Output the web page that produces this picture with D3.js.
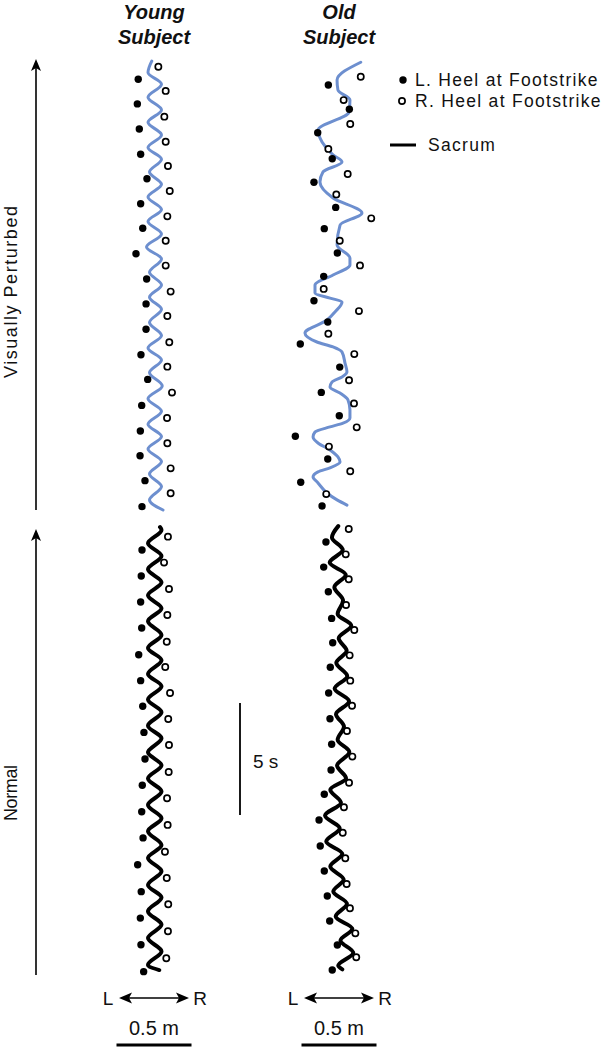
<!DOCTYPE html>
<html>
<head>
<meta charset="utf-8">
<script src="https://cdn.jsdelivr.net/npm/d3@7"></script>
<style>
body { margin: 0; background: #fff; }
svg text { font-family: "Liberation Sans", Arial, sans-serif; fill: #111; }
</style>
</head>
<body>
<svg width="602" height="1047"></svg>
<script>
// each point is [lateral position (m), time (s)]; time runs upward
var youngPertLeft = [[-0.105,19.23],[-0.111,18.13],[-0.098,17.01],[-0.089,15.88],[-0.047,14.79],[-0.089,13.67],[-0.075,12.58],[-0.12,11.44],[-0.049,10.31],[-0.053,9.20],[-0.053,8.07],[-0.087,6.93],[-0.042,5.83],[-0.082,4.67],[-0.091,3.53],[-0.093,2.42],[-0.06,1.31],[-0.08,0.15]];
var youngPertRight = [[0.029,19.79],[0.078,18.71],[0.069,17.56],[0.078,16.44],[0.093,15.36],[0.105,14.24],[0.089,13.11],[0.078,12.02],[0.078,10.91],[0.111,9.75],[0.089,8.66],[0.102,7.49],[0.089,6.40],[0.12,5.24],[0.087,4.11],[0.089,2.98],[0.111,1.86],[0.111,0.75]];
var youngPertSacrum = [[-0.015,20.04],[-0.04,19.53],[0.05,19.01],[-0.04,18.43],[0.05,17.86],[-0.04,17.31],[0.05,16.74],[-0.04,16.18],[0.05,15.66],[-0.03,15.09],[0.05,14.54],[-0.04,13.97],[0.05,13.41],[-0.04,12.88],[0.05,12.32],[-0.05,11.74],[0.05,11.21],[-0.03,10.61],[0.05,10.05],[-0.03,9.5],[0.05,8.96],[-0.03,8.37],[0.05,7.79],[-0.04,7.23],[0.05,6.7],[-0.03,6.13],[0.055,5.54],[-0.04,4.97],[0.05,4.41],[-0.04,3.83],[0.05,3.28],[-0.04,2.72],[0.05,2.16],[-0.03,1.61],[0.05,1.05],[-0.03,0.45],[0.06,0.0]];

var oldPertLeft = [[-0.071,18.97],[0.069,17.89],[-0.142,16.84],[-0.045,15.68],[-0.167,14.63],[-0.022,13.51],[-0.098,12.56],[-0.011,11.47],[-0.102,10.43],[-0.167,9.34],[-0.075,8.39],[-0.258,7.41],[0.005,6.38],[-0.118,5.25],[0.002,4.21],[-0.291,3.29],[-0.075,2.28],[-0.255,1.24],[-0.113,0.18]];
var oldPertRight = [[0.145,19.34],[0.031,18.30],[0.075,17.23],[-0.071,16.12],[0.058,15.0],[-0.018,14.09],[0.215,13.02],[0.005,12.02],[0.14,10.92],[-0.102,9.87],[0.133,8.88],[-0.071,7.87],[0.102,6.96],[0.067,5.79],[0.1,4.76],[0.118,3.69],[-0.067,2.83],[0.075,1.73],[-0.085,0.71]];
var oldPertSacrum = [[0.145,19.99],[-0.013,19.20],[-0.007,18.75],[0.073,18.30],[0.067,17.77],[-0.14,16.96],[-0.113,16.43],[-0.04,15.85],[0.02,15.54],[-0.107,15.09],[-0.127,14.64],[-0.04,13.93],[0.153,13.26],[0.007,12.72],[-0.013,11.83],[0.073,11.25],[0.073,10.94],[-0.04,10.49],[-0.16,10.04],[-0.16,9.69],[-0.06,9.46],[0.02,9.29],[-0.027,8.84],[-0.08,8.48],[-0.227,7.90],[-0.147,7.50],[-0.04,7.28],[0.02,7.05],[0.04,6.56],[0.053,6.16],[0.02,5.94],[-0.047,5.71],[-0.06,5.49],[0.007,5.22],[0.06,4.91],[0.073,4.46],[0.073,4.11],[0.027,3.88],[-0.06,3.71],[-0.16,3.48],[-0.173,3.26],[-0.14,2.99],[-0.06,2.68],[-0.007,2.37],[0.007,2.14],[-0.06,1.88],[-0.14,1.70],[-0.173,1.47],[-0.14,1.21],[-0.08,0.76],[-0.013,0.45],[0.053,0.22]];

var youngNormLeft = [[-0.08,18.97],[-0.085,17.81],[-0.089,16.65],[-0.082,15.49],[-0.102,14.30],[-0.089,13.14],[-0.075,12.0],[-0.067,10.83],[-0.06,9.64],[-0.078,8.47],[-0.082,7.29],[-0.073,6.12],[-0.109,4.92],[-0.085,3.72],[-0.091,2.54],[-0.087,1.35],[-0.069,0.15]];
var youngNormRight = [[0.093,19.57],[0.067,18.41],[0.1,17.23],[0.089,16.07],[0.085,14.88],[0.075,13.75],[0.107,12.59],[0.095,11.43],[0.1,10.27],[0.098,9.06],[0.087,7.89],[0.091,6.70],[0.073,5.50],[0.085,4.33],[0.095,3.16],[0.093,1.95],[0.082,0.75]];
var youngNormSacrum = [[0.04,20.0],[0.05,19.87],[-0.04,19.27],[0.05,18.71],[-0.04,18.11],[0.05,17.53],[-0.04,16.95],[0.05,16.37],[-0.04,15.79],[0.05,15.18],[-0.04,14.60],[0.05,14.05],[-0.04,13.44],[0.05,12.89],[-0.04,12.30],[0.05,11.73],[-0.04,11.13],[0.05,10.57],[-0.04,9.94],[0.05,9.36],[-0.04,8.77],[0.05,8.19],[-0.04,7.59],[0.05,7.00],[-0.04,6.42],[0.05,5.80],[-0.04,5.22],[0.05,4.63],[-0.04,4.02],[0.05,3.46],[-0.04,2.84],[0.05,2.25],[-0.04,1.65],[0.05,1.05],[-0.04,0.45],[0.035,0.22]];

var oldNormLeft = [[-0.087,19.33],[-0.102,18.21],[-0.071,17.11],[-0.049,15.92],[-0.042,14.83],[-0.058,13.74],[-0.069,12.59],[-0.06,11.44],[-0.049,10.30],[-0.053,9.15],[-0.098,8.07],[-0.133,6.92],[-0.125,5.76],[-0.098,4.64],[-0.078,3.53],[-0.062,2.41],[-0.011,1.34],[-0.045,0.22]];
var oldNormRight = [[0.065,19.91],[0.045,18.78],[0.065,17.67],[0.047,16.52],[0.102,15.40],[0.071,14.27],[0.075,13.14],[0.087,12.02],[0.053,10.89],[0.089,9.75],[0.067,8.58],[0.033,7.49],[0.025,6.35],[0.042,5.21],[0.051,4.06],[0.073,2.98],[0.109,1.86],[0.115,0.79]];
var oldNormSacrum = [[-0.005,20.04],[-0.047,19.53],[0.025,18.98],[-0.062,18.41],[0.045,17.87],[-0.031,17.31],[0.027,16.72],[-0.009,16.12],[0.082,15.60],[-0.002,15.03],[0.051,14.47],[-0.018,13.94],[0.055,13.34],[-0.029,12.79],[0.067,12.22],[-0.02,11.64],[0.033,11.09],[-0.009,10.50],[0.069,9.95],[-0.013,9.35],[0.047,8.78],[-0.058,8.27],[0.013,7.69],[-0.093,7.12],[0.005,6.55],[-0.085,5.96],[0.022,5.41],[-0.058,4.84],[0.031,4.26],[-0.038,3.73],[0.053,3.18],[-0.022,2.61],[0.089,2.06],[0.01,1.54],[0.095,0.99],[-0.005,0.42],[0.022,0.25]];

var subjects = ["Young", "Old"];
var conditions = ["Visually Perturbed", "Normal"];
var legendLabels = ["L. Heel at Footstrike", "R. Heel at Footstrike", "Sacrum"];

var svg = d3.select("svg");
var blue = "#6d8fcf";

var colX = { Young: 154, Old: 339 };
var rowBottom = { "Visually Perturbed": 510, "Normal": 975 };
var pxPerM = 150, pxPerS = 22.4;

var panels = [
  { subj: "Young", cond: "Visually Perturbed", left: youngPertLeft, right: youngPertRight, sacrum: youngPertSacrum, color: blue, w: 3 },
  { subj: "Old", cond: "Visually Perturbed", left: oldPertLeft, right: oldPertRight, sacrum: oldPertSacrum, color: blue, w: 3 },
  { subj: "Young", cond: "Normal", left: youngNormLeft, right: youngNormRight, sacrum: youngNormSacrum, color: "#000", w: 4 },
  { subj: "Old", cond: "Normal", left: oldNormLeft, right: oldNormRight, sacrum: oldNormSacrum, color: "#000", w: 4 }
];

panels.forEach(function(p) {
  var cx = colX[p.subj], bot = rowBottom[p.cond];
  var x = d3.scaleLinear().domain([-0.5, 0.5]).range([cx - pxPerM / 2, cx + pxPerM / 2]);
  var y = d3.scaleLinear().domain([0, 20]).range([bot, bot - 20 * pxPerS]);
  var g = svg.append("g");

  var line = d3.line()
    .x(function(d) { return x(d[0]); })
    .y(function(d) { return y(d[1]); })
    .curve(d3.curveMonotoneY);
  var pts = p.sacrum.slice().sort(function(a, b) { return a[1] - b[1]; });
  g.append("path")
    .attr("d", line(pts))
    .attr("fill", "none")
    .attr("stroke", p.color)
    .attr("stroke-width", p.w)
    .attr("stroke-linecap", "round");

  g.selectAll(".lh").data(p.left).enter().append("circle")
    .attr("cx", function(d) { return x(d[0]); })
    .attr("cy", function(d) { return y(d[1]); })
    .attr("r", 3.7)
    .attr("fill", "#000");

  g.selectAll(".rh").data(p.right).enter().append("circle")
    .attr("cx", function(d) { return x(d[0]); })
    .attr("cy", function(d) { return y(d[1]); })
    .attr("r", 3.1)
    .attr("fill", "#fff")
    .attr("stroke", "#000")
    .attr("stroke-width", 1.7);
});

// column titles
subjects.forEach(function(s) {
  var t = svg.append("text")
    .attr("text-anchor", "middle")
    .attr("font-weight", "bold")
    .attr("font-style", "italic")
    .attr("font-size", 20);
  t.append("tspan").attr("x", colX[s]).attr("y", 19).text(s);
  t.append("tspan").attr("x", colX[s]).attr("y", 44).text("Subject");
});

// row arrows on the left
function arrowHead(x0, y0, dir) {
  // dir: "up", "left", "right"
  var p;
  if (dir === "up") p = [[x0, y0], [x0 - 5, y0 + 12], [x0, y0 + 9], [x0 + 5, y0 + 12]];
  if (dir === "left") p = [[x0, y0], [x0 + 13, y0 - 5.5], [x0 + 10, y0], [x0 + 13, y0 + 5.5]];
  if (dir === "right") p = [[x0, y0], [x0 - 13, y0 - 5.5], [x0 - 10, y0], [x0 - 13, y0 + 5.5]];
  svg.append("path").attr("d", "M" + p.join("L") + "Z").attr("fill", "#000");
}

var rowTop = { "Visually Perturbed": 59, "Normal": 529 };
var rowLabelY = { "Visually Perturbed": 292, "Normal": 793 };
var rowLabelLen = { "Visually Perturbed": 172, "Normal": 56 };
conditions.forEach(function(c) {
  svg.append("line")
    .attr("x1", 36).attr("x2", 36)
    .attr("y1", rowBottom[c]).attr("y2", rowTop[c] + 6)
    .attr("stroke", "#000").attr("stroke-width", 1.6);
  arrowHead(36, rowTop[c], "up");
  svg.append("text")
    .attr("transform", "translate(17," + rowLabelY[c] + ") rotate(-90)")
    .attr("text-anchor", "middle")
    .attr("font-size", 18)
    .attr("textLength", rowLabelLen[c])
    .attr("lengthAdjust", "spacing")
    .text(c);
});

// legend
var lg = svg.append("g");
lg.append("circle").attr("cx", 403).attr("cy", 80).attr("r", 3.7).attr("fill", "#000");
lg.append("circle").attr("cx", 402).attr("cy", 101).attr("r", 3.1).attr("fill", "#fff").attr("stroke", "#000").attr("stroke-width", 1.7);
lg.append("line").attr("x1", 390).attr("x2", 416).attr("y1", 145).attr("y2", 145).attr("stroke", "#000").attr("stroke-width", 3);
lg.selectAll(".lt").data(legendLabels).enter().append("text")
  .attr("x", function(d, i) { return i < 2 ? 415 : 428; })
  .attr("y", function(d, i) { return [86, 107, 151][i]; })
  .attr("font-size", 17.5)
  .attr("letter-spacing", 1.3)
  .text(function(d) { return d; });

// 5 s time scale bar
svg.append("line").attr("x1", 240).attr("x2", 240).attr("y1", 703).attr("y2", 703 + 5 * pxPerS)
  .attr("stroke", "#000").attr("stroke-width", 1.8);
svg.append("text").attr("x", 253).attr("y", 768).attr("font-size", 19).text("5 s");

// L-R arrows and 0.5 m bars
subjects.forEach(function(s) {
  var cx = colX[s];
  svg.append("line").attr("x1", cx - 28).attr("x2", cx + 28).attr("y1", 998).attr("y2", 998)
    .attr("stroke", "#000").attr("stroke-width", 1.5);
  arrowHead(cx - 35, 998, "left");
  arrowHead(cx + 35, 998, "right");
  svg.append("text").attr("x", cx - 46).attr("y", 1005).attr("text-anchor", "middle").attr("font-size", 19).text("L");
  svg.append("text").attr("x", cx + 46).attr("y", 1005).attr("text-anchor", "middle").attr("font-size", 19).text("R");
  svg.append("text").attr("x", cx).attr("y", 1035).attr("text-anchor", "middle").attr("font-size", 20).text("0.5 m");
  svg.append("line").attr("x1", cx - 0.25 * pxPerM).attr("x2", cx + 0.25 * pxPerM).attr("y1", 1045).attr("y2", 1045)
    .attr("stroke", "#000").attr("stroke-width", 3);
});
</script>
</body>
</html>
